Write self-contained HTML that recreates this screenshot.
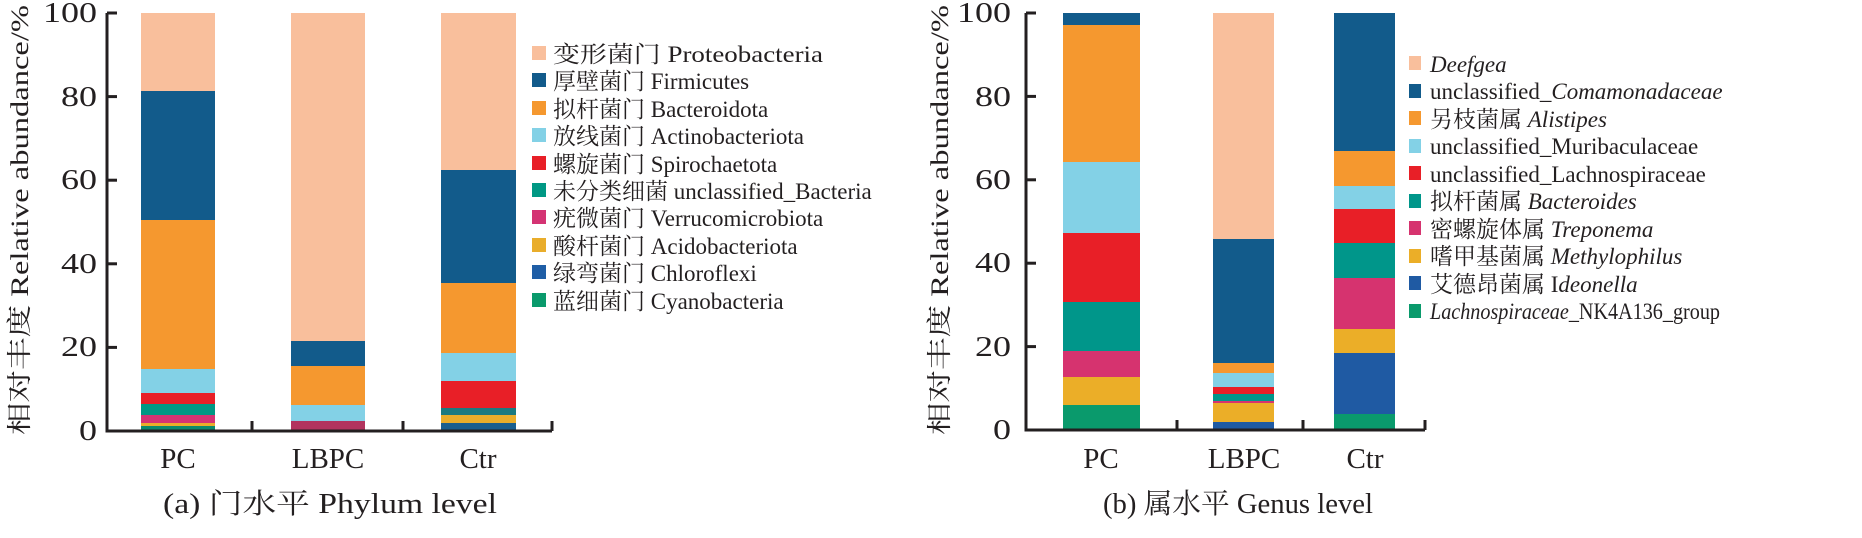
<!DOCTYPE html>
<html><head><meta charset="utf-8"><style>
html,body{margin:0;padding:0;background:#fff;}
svg{display:block;}
text{font-family:"Liberation Serif","Noto Serif CJK SC",serif;fill:#231f20;}
</style></head><body>
<svg width="1862" height="538" viewBox="0 0 1862 538" xmlns="http://www.w3.org/2000/svg">
<g>
<rect x="141" y="13" width="74" height="78" fill="#f9bf9c"/>
<rect x="141" y="91" width="74" height="129" fill="#125b8b"/>
<rect x="141" y="220" width="74" height="149" fill="#f5982f"/>
<rect x="141" y="369" width="74" height="24" fill="#83d1e6"/>
<rect x="141" y="393" width="74" height="11" fill="#e81f27"/>
<rect x="141" y="404" width="74" height="11" fill="#009884"/>
<rect x="141" y="415" width="74" height="8" fill="#d43373"/>
<rect x="141" y="423" width="74" height="3" fill="#e9ad2b"/>
<rect x="141" y="426" width="74" height="5" fill="#0a8a6c"/>
<rect x="291" y="13" width="74" height="328" fill="#f9bf9c"/>
<rect x="291" y="341" width="74" height="25" fill="#125b8b"/>
<rect x="291" y="366" width="74" height="39" fill="#f5982f"/>
<rect x="291" y="405" width="74" height="16" fill="#83d1e6"/>
<rect x="291" y="421" width="74" height="10" fill="#b2345e"/>
<rect x="441" y="13" width="75" height="157" fill="#f9bf9c"/>
<rect x="441" y="170" width="75" height="113" fill="#125b8b"/>
<rect x="441" y="283" width="75" height="70" fill="#f5982f"/>
<rect x="441" y="353" width="75" height="28" fill="#83d1e6"/>
<rect x="441" y="381" width="75" height="27" fill="#e81f27"/>
<rect x="441" y="408" width="75" height="7" fill="#1b7a80"/>
<rect x="441" y="415" width="75" height="8" fill="#e9ad2b"/>
<rect x="441" y="423" width="75" height="8" fill="#1a5e8e"/>
<path d="M107 13 V431 H552" stroke="#231f20" stroke-width="3" fill="none"/>
<g stroke="#231f20" stroke-width="3">
<line x1="107" y1="13" x2="117" y2="13"/><line x1="107" y1="96.6" x2="117" y2="96.6"/>
<line x1="107" y1="180.2" x2="117" y2="180.2"/><line x1="107" y1="263.8" x2="117" y2="263.8"/>
<line x1="107" y1="347.4" x2="117" y2="347.4"/>
<line x1="252" y1="431" x2="252" y2="421"/><line x1="403" y1="431" x2="403" y2="421"/><line x1="552" y1="431" x2="552" y2="421"/>
</g>
<g font-size="28" text-anchor="end">
<text x="97" y="22" textLength="54" lengthAdjust="spacingAndGlyphs">100</text>
<text x="97" y="106" textLength="36" lengthAdjust="spacingAndGlyphs">80</text>
<text x="97" y="189" textLength="36" lengthAdjust="spacingAndGlyphs">60</text>
<text x="97" y="273" textLength="36" lengthAdjust="spacingAndGlyphs">40</text>
<text x="97" y="356" textLength="36" lengthAdjust="spacingAndGlyphs">20</text>
<text x="97" y="440" textLength="18" lengthAdjust="spacingAndGlyphs">0</text>
</g>
<text transform="translate(28,220) rotate(-90)" font-size="25" text-anchor="middle" textLength="430" lengthAdjust="spacingAndGlyphs">相对丰度 Relative abundance/%</text>
<g font-size="29" text-anchor="middle">
<text x="178" y="468">PC</text><text x="328" y="468">LBPC</text><text x="478" y="468">Ctr</text>
</g>
<text x="163" y="513" font-size="28" textLength="334" lengthAdjust="spacingAndGlyphs">(a) 门水平 Phylum level</text>
<g>
<rect x="532" y="46" width="14" height="14" fill="#f9bf9c"/>
<rect x="532" y="73" width="14" height="14" fill="#125b8b"/>
<rect x="532" y="101" width="14" height="14" fill="#f5982f"/>
<rect x="532" y="128" width="14" height="14" fill="#83d1e6"/>
<rect x="532" y="156" width="14" height="14" fill="#e81f27"/>
<rect x="532" y="183" width="14" height="14" fill="#009884"/>
<rect x="532" y="210" width="14" height="14" fill="#d43373"/>
<rect x="532" y="238" width="14" height="14" fill="#e9ad2b"/>
<rect x="532" y="265" width="14" height="14" fill="#1f5ea6"/>
<rect x="532" y="293" width="14" height="14" fill="#0a9a6c"/>
</g>
<g font-size="23">
<text x="553" y="62" textLength="270" lengthAdjust="spacingAndGlyphs">变形菌门 Proteobacteria</text>
<text x="553" y="89">厚壁菌门 Firmicutes</text>
<text x="553" y="117">拟杆菌门 Bacteroidota</text>
<text x="553" y="144">放线菌门 Actinobacteriota</text>
<text x="553" y="172">螺旋菌门 Spirochaetota</text>
<text x="553" y="199">未分类细菌 unclassified_Bacteria</text>
<text x="553" y="226">疣微菌门 Verrucomicrobiota</text>
<text x="553" y="254">酸杆菌门 Acidobacteriota</text>
<text x="553" y="281">绿弯菌门 Chloroflexi</text>
<text x="553" y="309">蓝细菌门 Cyanobacteria</text>
</g>
</g>
<g>
<rect x="1063" y="13" width="77" height="12" fill="#125b8b"/>
<rect x="1063" y="25" width="77" height="137" fill="#f5982f"/>
<rect x="1063" y="162" width="77" height="71" fill="#83d1e6"/>
<rect x="1063" y="233" width="77" height="69" fill="#e81f27"/>
<rect x="1063" y="302" width="77" height="49" fill="#00968a"/>
<rect x="1063" y="351" width="77" height="26" fill="#d6336f"/>
<rect x="1063" y="377" width="77" height="28" fill="#ebae28"/>
<rect x="1063" y="405" width="77" height="25" fill="#0a9a6c"/>
<rect x="1213" y="13" width="61" height="226" fill="#f9bf9c"/>
<rect x="1213" y="239" width="61" height="124" fill="#125b8b"/>
<rect x="1213" y="363" width="61" height="10" fill="#f5982f"/>
<rect x="1213" y="373" width="61" height="14" fill="#83d1e6"/>
<rect x="1213" y="387" width="61" height="7" fill="#e81f27"/>
<rect x="1213" y="394" width="61" height="7" fill="#00968a"/>
<rect x="1213" y="401" width="61" height="2" fill="#d6336f"/>
<rect x="1213" y="403" width="61" height="19" fill="#ebae28"/>
<rect x="1213" y="422" width="61" height="8" fill="#1f5aa3"/>
<rect x="1334" y="13" width="61" height="138" fill="#125b8b"/>
<rect x="1334" y="151" width="61" height="35" fill="#f5982f"/>
<rect x="1334" y="186" width="61" height="23" fill="#83d1e6"/>
<rect x="1334" y="209" width="61" height="34" fill="#e81f27"/>
<rect x="1334" y="243" width="61" height="35" fill="#00968a"/>
<rect x="1334" y="278" width="61" height="51" fill="#d6336f"/>
<rect x="1334" y="329" width="61" height="24" fill="#ebae28"/>
<rect x="1334" y="353" width="61" height="61" fill="#1f5aa3"/>
<rect x="1334" y="414" width="61" height="16" fill="#0a9a6c"/>
<path d="M1026 13 V430 H1425" stroke="#231f20" stroke-width="3" fill="none"/>
<g stroke="#231f20" stroke-width="3">
<line x1="1026" y1="13" x2="1036" y2="13"/><line x1="1026" y1="96.4" x2="1036" y2="96.4"/>
<line x1="1026" y1="179.8" x2="1036" y2="179.8"/><line x1="1026" y1="263.2" x2="1036" y2="263.2"/>
<line x1="1026" y1="346.6" x2="1036" y2="346.6"/>
<line x1="1177" y1="430" x2="1177" y2="420"/><line x1="1303" y1="430" x2="1303" y2="420"/><line x1="1425" y1="430" x2="1425" y2="420"/>
</g>
<g font-size="28" text-anchor="end">
<text x="1011" y="22" textLength="54" lengthAdjust="spacingAndGlyphs">100</text>
<text x="1011" y="106" textLength="36" lengthAdjust="spacingAndGlyphs">80</text>
<text x="1011" y="189" textLength="36" lengthAdjust="spacingAndGlyphs">60</text>
<text x="1011" y="272" textLength="36" lengthAdjust="spacingAndGlyphs">40</text>
<text x="1011" y="356" textLength="36" lengthAdjust="spacingAndGlyphs">20</text>
<text x="1011" y="439" textLength="18" lengthAdjust="spacingAndGlyphs">0</text>
</g>
<text transform="translate(948,220) rotate(-90)" font-size="25" text-anchor="middle" textLength="430" lengthAdjust="spacingAndGlyphs">相对丰度 Relative abundance/%</text>
<g font-size="29" text-anchor="middle">
<text x="1101" y="468">PC</text><text x="1244" y="468">LBPC</text><text x="1365" y="468">Ctr</text>
</g>
<text x="1103" y="513" font-size="28" textLength="270" lengthAdjust="spacingAndGlyphs">(b) 属水平 Genus level</text>
<g>
<rect x="1409" y="56" width="12" height="14" fill="#f9bf9c"/>
<rect x="1409" y="84" width="12" height="14" fill="#125b8b"/>
<rect x="1409" y="111" width="12" height="14" fill="#f5982f"/>
<rect x="1409" y="139" width="12" height="14" fill="#83d1e6"/>
<rect x="1409" y="166" width="12" height="14" fill="#e81f27"/>
<rect x="1409" y="194" width="12" height="14" fill="#00968a"/>
<rect x="1409" y="221" width="12" height="14" fill="#d6336f"/>
<rect x="1409" y="249" width="12" height="14" fill="#ebae28"/>
<rect x="1409" y="276" width="12" height="14" fill="#1f5aa3"/>
<rect x="1409" y="304" width="12" height="14" fill="#0a9a6c"/>
</g>
<g font-size="23">
<text x="1430" y="72"><tspan font-style="italic">Deefgea</tspan></text>
<text x="1430" y="99">unclassified_<tspan font-style="italic">Comamonadaceae</tspan></text>
<text x="1430" y="127">另枝菌属 <tspan font-style="italic">Alistipes</tspan></text>
<text x="1430" y="154">unclassified_Muribaculaceae</text>
<text x="1430" y="182">unclassified_Lachnospiraceae</text>
<text x="1430" y="209">拟杆菌属 <tspan font-style="italic">Bacteroides</tspan></text>
<text x="1430" y="237">密螺旋体属 <tspan font-style="italic">Treponema</tspan></text>
<text x="1430" y="264">嗜甲基菌属 <tspan font-style="italic">Methylophilus</tspan></text>
<text x="1430" y="292">艾德昂菌属 I<tspan font-style="italic">deonella</tspan></text>
<text x="1430" y="319" textLength="290" lengthAdjust="spacingAndGlyphs"><tspan font-style="italic">Lachnospiraceae</tspan>_NK4A136_group</text>
</g>
</g>
</svg>
</body></html>
